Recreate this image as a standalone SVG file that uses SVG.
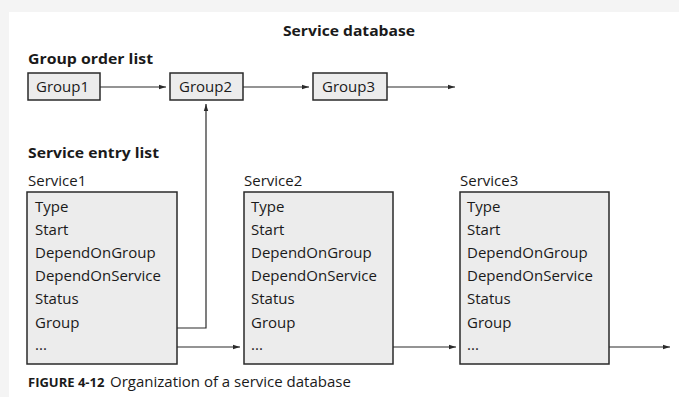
<svg xmlns="http://www.w3.org/2000/svg" width="679" height="397" viewBox="0 0 679 397">
<style>
text{font-family:"Open Sans","Liberation Sans",sans-serif;fill:#1a1a1a;font-size:15px}
.b{font-weight:bold;font-size:14px}
.box{fill:#ececec;stroke:#2a2a2a;stroke-width:1.5}
.ln{fill:none;stroke:#2a2a2a;stroke-width:1.2}
</style>
<defs>
<marker id="ah" markerWidth="8" markerHeight="6" refX="7" refY="3" orient="auto" markerUnits="userSpaceOnUse">
<path d="M0,0.8 L7,3 L0,5.2 z" fill="#2a2a2a"/>
</marker>
</defs>
<rect x="0" y="0" width="679" height="397" fill="#f4f4f4"/>
<rect x="9" y="12" width="670" height="385" fill="#ffffff"/>
<text class="b" x="283" y="36" textLength="132" lengthAdjust="spacingAndGlyphs">Service database</text>
<text class="b" x="28" y="64" textLength="125" lengthAdjust="spacingAndGlyphs">Group order list</text>
<text class="b" x="28" y="158" textLength="131" lengthAdjust="spacingAndGlyphs">Service entry list</text>
<g id="group1"><rect class="box" x="28" y="73" width="72" height="27"/><text x="36" y="92">Group1</text></g>
<g id="group2"><rect class="box" x="170" y="73" width="73" height="27"/><text x="179" y="92">Group2</text></g>
<g id="group3"><rect class="box" x="313" y="73" width="74" height="27"/><text x="322" y="92">Group3</text></g>
<g id="service1">
<text x="28" y="186">Service1</text>
<rect class="box" x="27" y="192" width="150" height="172"/>
<text x="35" y="212">Type</text><text x="35" y="235">Start</text><text x="35" y="258">DependOnGroup</text><text x="35" y="281">DependOnService</text><text x="35" y="304">Status</text><text x="35" y="328">Group</text><text x="35" y="350">...</text>
</g>
<g id="service2">
<text x="244" y="186">Service2</text>
<rect class="box" x="244" y="192" width="149" height="172"/>
<text x="251" y="212">Type</text><text x="251" y="235">Start</text><text x="251" y="258">DependOnGroup</text><text x="251" y="281">DependOnService</text><text x="251" y="304">Status</text><text x="251" y="328">Group</text><text x="251" y="350">...</text>
</g>
<g id="service3">
<text x="460" y="186">Service3</text>
<rect class="box" x="460" y="192" width="149" height="172"/>
<text x="467" y="212">Type</text><text x="467" y="235">Start</text><text x="467" y="258">DependOnGroup</text><text x="467" y="281">DependOnService</text><text x="467" y="304">Status</text><text x="467" y="328">Group</text><text x="467" y="350">...</text>
</g>
<g id="connectors">
<line class="ln" x1="100" y1="87" x2="166" y2="87" marker-end="url(#ah)"/>
<line class="ln" x1="243" y1="87" x2="309" y2="87" marker-end="url(#ah)"/>
<line class="ln" x1="387" y1="87" x2="455" y2="87" marker-end="url(#ah)"/>
<polyline class="ln" points="177,328 206,328 206,104" marker-end="url(#ah)"/>
<line class="ln" x1="177" y1="347" x2="240" y2="347" marker-end="url(#ah)"/>
<line class="ln" x1="393" y1="347" x2="456" y2="347" marker-end="url(#ah)"/>
<line class="ln" x1="609" y1="347" x2="670" y2="347" marker-end="url(#ah)"/>
</g>
<text x="28" y="387"><tspan class="b" style="font-size:13px">FIGURE 4-12</tspan><tspan x="110">Organization of a service database</tspan></text>
</svg>
